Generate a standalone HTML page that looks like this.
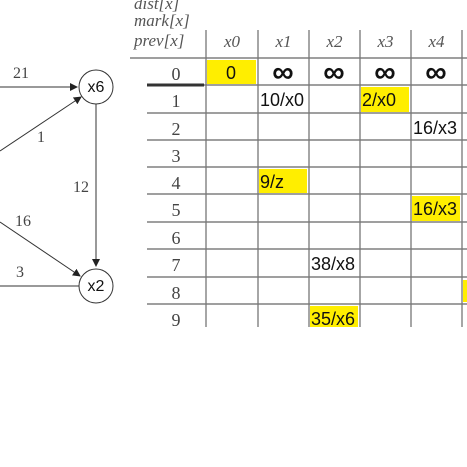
<!DOCTYPE html>
<html><head><meta charset="utf-8"><style>
html,body{margin:0;padding:0;background:#fff;width:467px;height:467px;overflow:hidden}
svg{display:block}
.s{font-family:"Liberation Serif",serif;font-style:italic;fill:#555}
.n{font-family:"Liberation Serif",serif;fill:#444}
.a{font-family:"Liberation Sans",sans-serif;fill:#111}
</style></head><body>
<svg width="467" height="467" viewBox="0 0 467 467">
<defs><marker id="ar" markerWidth="8" markerHeight="8" refX="7" refY="4" orient="auto"><path d="M0,0 L8,4 L0,8 z" fill="#222"/></marker></defs>
<g stroke="#333" stroke-width="1" fill="none">
<line x1="0" y1="87" x2="77" y2="87" marker-end="url(#ar)"/>
<line x1="0" y1="151" x2="81" y2="97" marker-end="url(#ar)"/>
<line x1="96" y1="104" x2="96" y2="266" marker-end="url(#ar)"/>
<line x1="0" y1="222" x2="80" y2="276" marker-end="url(#ar)"/>
<line x1="0" y1="286" x2="79" y2="286"/>
<circle cx="96" cy="87" r="17" fill="#fff"/>
<circle cx="96" cy="286" r="17" fill="#fff"/>
</g>
<g font-size="16">
<text class="a" x="96" y="92" text-anchor="middle">x6</text>
<text class="a" x="96" y="291" text-anchor="middle">x2</text>
<text class="n" x="13" y="78">21</text>
<text class="n" x="37" y="142">1</text>
<text class="n" x="73" y="192">12</text>
<text class="n" x="15" y="226">16</text>
<text class="n" x="16" y="277">3</text>
</g>
<g font-size="17">
<text class="s" x="134" y="9">dist[x]</text>
<text class="s" x="134" y="26">mark[x]</text>
<text class="s" x="134" y="46">prev[x]</text>
</g>
<g id="tbl"></g>
</svg>
<script>
const cols=["x0","x1","x2","x3","x4"];
const rows=["0","1","2","3","4","5","6","7","8","9"];
const cells=[[0,0,"0",1],[0,1,"∞",0],[0,2,"∞",0],[0,3,"∞",0],[0,4,"∞",0],
[1,1,"10/x0",0],[1,3,"2/x0",1],[2,4,"16/x3",0],[4,1,"9/z",1],[5,4,"16/x3",1],[7,2,"38/x8",0],[9,2,"35/x6",1]];
const ns="http://www.w3.org/2000/svg",g=document.getElementById("tbl");
const colX=[206,258,309,360,411,462];
const rowY=[58,85,113,140,167,194,222,249,277,304,328];
function el(t,a){const e=document.createElementNS(ns,t);for(const k in a)e.setAttribute(k,a[k]);g.appendChild(e);return e;}
cells.forEach(c=>{if(c[3]){const r=el("rect",{x:colX[c[1]]+1,y:rowY[c[0]]+2,width:colX[c[1]+1]-colX[c[1]]-3,height:rowY[c[0]+1]-rowY[c[0]]-3,fill:"#ffee00"});

}});
const r2=el("rect",{x:463,y:280,width:4,height:22,fill:"#ffee00"});


for(let i=0;i<rowY.length-1;i++){const l=el("line",{x1:i==0?130:147,y1:rowY[i],x2:467,y2:rowY[i],stroke:"#666","stroke-width":1.3});

}
const tl=el("line",{x1:147,y1:85,x2:204,y2:85,stroke:"#333","stroke-width":3});


colX.forEach(x=>{const l=el("line",{x1:x,y1:30,x2:x,y2:327,stroke:"#777","stroke-width":1.3});

});
cols.forEach((c,i)=>{const t=el("text",{x:(colX[i]+colX[i+1])/2,y:47,"text-anchor":"middle","font-size":17,class:"s"});t.textContent=c;

});
rows.forEach((r,i)=>{const t=el("text",{x:176,y:rowY[i]+22,"text-anchor":"middle","font-size":18,class:"n"});t.textContent=r;

});
cells.forEach(c=>{const inf=c[2]=="∞";const t=el("text",{x:colX[c[1]]+(inf||c[2]=="0"?25:2),y:rowY[c[0]]+(inf?24:21),"text-anchor":(inf||c[2]=="0")?"middle":"start","font-size":inf?30:18,"font-weight":inf?"bold":"normal",class:"a"});t.textContent=c[2];

});
</script>
</body></html>
